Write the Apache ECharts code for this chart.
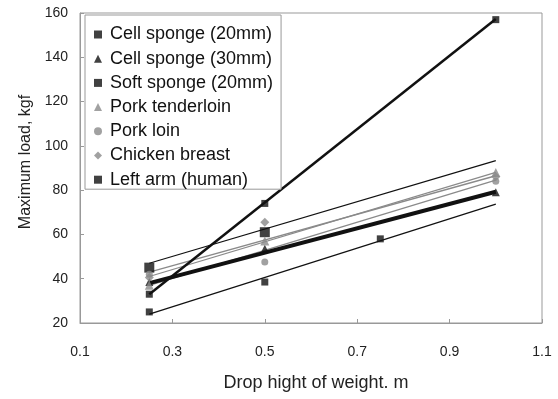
<!DOCTYPE html>
<html>
<head>
<meta charset="utf-8">
<script src="https://cdn.jsdelivr.net/npm/echarts@6/dist/echarts.min.js"></script>
<style>
  html, body { margin: 0; padding: 0; background: #fff; }
  #chart { width: 558px; height: 399px; }
</style>
</head>
<body>
<div id="chart"></div>
<script>
// x ticks / y ticks
const xTicks = [0.1, 0.3, 0.5, 0.7, 0.9, 1.1];
const yTicks = [20, 40, 60, 80, 100, 120, 140, 160];

// measured points [drop height m, max load kgf]
const cellSponge20 = [[0.25, 45], [0.5, 61]];
const cellSponge30 = [[0.25, 38.5], [0.5, 53.5], [1.0, 79]];
const softSponge20 = [[0.25, 33], [0.5, 74], [1.0, 157]];
const porkTenderloin = [[0.25, 37], [0.5, 57], [1.0, 88]];
const porkLoin = [[0.25, 42], [0.5, 47.5], [1.0, 84]];
const chickenBreast = [[0.25, 40.5], [0.5, 65.5], [1.0, 86]];
const leftArm = [[0.25, 25], [0.5, 38.5], [0.75, 58]];

// trend lines, value at x = 0.25 and at x = 1.0
const trendX = [0.25, 1.0];
const trendCellSponge20 = [47, 93.3];
const trendCellSponge30 = [38, 79.3];
const trendSoftSponge20 = [33, 157.3];
const trendPorkTenderloin = [41, 88];
const trendPorkLoin = [37, 84.5];
const trendChickenBreast = [43, 86.5];
const trendLeftArm = [24, 73.7];

const BLACK = '#111';
const GREY = '#8a8a8a';

function pts(trend){ return trendX.map((x, i) => [x, trend[i]]); }

function scatter(name, data, symbol, size, color){
  return { name, type: 'scatter', data, symbol, symbolSize: size,
    itemStyle: { color }, z: 5 };
}
function trend(trendVals, color, width){
  return { type: 'line', data: pts(trendVals), symbol: 'none', silent: true,
    lineStyle: { color, width }, z: 3 };
}

const chart = echarts.init(document.getElementById('chart'));
chart.setOption({
  animation: false,
  grid: { left: 80, right: 16, top: 13, bottom: 76, show: true,
    borderColor: '#999', borderWidth: 1 },
  xAxis: {
    type: 'value', min: xTicks[0], max: xTicks[xTicks.length - 1], interval: 0.2,
    name: 'Drop hight of weight. m', nameLocation: 'middle', nameGap: 51,
    nameTextStyle: { fontFamily: 'Liberation Sans', fontSize: 18, color: '#222',
      padding: [0, 0, 0, 10] },
    axisLine: { lineStyle: { color: '#999' } },
    axisTick: { inside: true, length: 4, lineStyle: { color: '#999' } },
    splitLine: { show: false },
    axisLabel: { fontFamily: 'Liberation Sans', fontSize: 14, color: '#222', margin: 22,
      formatter: v => v.toFixed(1) }
  },
  yAxis: {
    type: 'value', min: yTicks[0], max: yTicks[yTicks.length - 1], interval: 20,
    name: 'Maximum load, kgf', nameLocation: 'middle', nameGap: 42,
    nameTextStyle: { fontFamily: 'Liberation Sans', fontSize: 16, color: '#222',
      padding: [0, 0, 0, 12] },
    axisLine: { show: true, lineStyle: { color: '#999' } },
    axisTick: { show: true, inside: true, length: 4, lineStyle: { color: '#999' } },
    splitLine: { show: false },
    axisLabel: { fontFamily: 'Liberation Sans', fontSize: 14, color: '#222', margin: 12 }
  },
  legend: {
    orient: 'vertical', left: 85, top: 15, width: 198,
    padding: [10, 8, 0, 9], itemGap: 5.2, itemWidth: 8, itemHeight: 8,
    backgroundColor: '#fff', borderColor: '#999', borderWidth: 1,
    textStyle: { fontFamily: 'Liberation Sans', fontSize: 18, color: '#111',
      lineHeight: 19, padding: [0, 0, 0, 3] },
    data: ['Cell sponge (20mm)', 'Cell sponge (30mm)', 'Soft sponge (20mm)',
      'Pork tenderloin', 'Pork loin', 'Chicken breast', 'Left arm (human)']
  },
  series: [
    trend(trendPorkTenderloin, GREY, 1.3),
    trend(trendPorkLoin, GREY, 1.3),
    trend(trendChickenBreast, GREY, 1.3),
    trend(trendCellSponge20, BLACK, 1.2),
    trend(trendLeftArm, BLACK, 1.2),
    trend(trendCellSponge30, BLACK, 4),
    trend(trendSoftSponge20, BLACK, 2.5),
    scatter('Cell sponge (20mm)', cellSponge20, 'rect', 10, BLACK),
    scatter('Cell sponge (30mm)', cellSponge30, 'triangle', 8, BLACK),
    scatter('Soft sponge (20mm)', softSponge20, 'rect', 7, BLACK),
    scatter('Pork tenderloin', porkTenderloin, 'triangle', 9, GREY),
    scatter('Pork loin', porkLoin, 'circle', 7, GREY),
    scatter('Chicken breast', chickenBreast, 'diamond', 9, GREY),
    scatter('Left arm (human)', leftArm, 'rect', 7, BLACK)
  ]
});
</script>
</body>
</html>
